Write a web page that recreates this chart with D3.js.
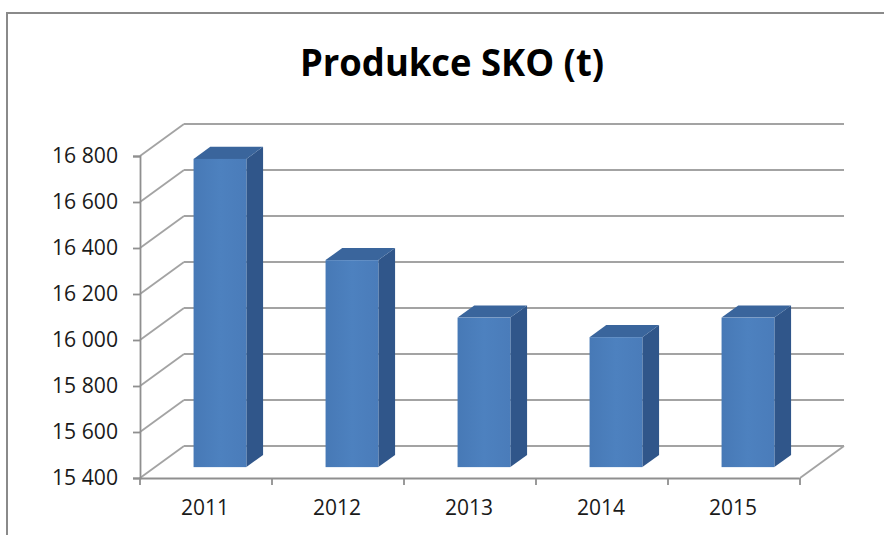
<!DOCTYPE html>
<html lang="cs">
<head>
  <meta charset="UTF-8">
  <title>Produkce SKO (t)</title>
  <script src="https://d3js.org/d3.v7.min.js"></script>
  <style>
    body { margin: 0; background: #fff; }
    svg { display: block; }
    text { font-family: "Open Sans", sans-serif; fill: #1a1a1a; }
  </style>
</head>
<body>
  <svg id="chart" width="884" height="535"></svg>

  <script>
    // data
    const years = ["2011", "2012", "2013", "2014", "2015"];
    const production = [16740, 16300, 16050, 15965, 16050];
    const yTicks = [15400, 15600, 15800, 16000, 16200, 16400, 16600, 16800];

    const width = 884, height = 535;
    const svg = d3.select("#chart");

    // 3d wall offset (back wall relative to front plane)
    const DX = 44, DY = -32;
    // bar sits between these depth fractions
    const d0 = 0.34, d1 = 0.72;

    const x = d3.scaleBand().domain(years).range([139, 799]).padding(0);
    const y = d3.scaleLinear().domain([15400, 16800]).range([478, 156]);
    const fmt = v => d3.format(",")(v).replace(",", " ");

    // outer frame
    svg.append("path")
      .attr("d", `M7,535 L7,13 L884,13`)
      .attr("fill", "none").attr("stroke", "#8a8a8a").attr("stroke-width", 2);

    // title
    svg.append("text")
      .attr("x", 452).attr("y", 76)
      .attr("text-anchor", "middle")
      .attr("font-size", 37).attr("font-weight", 700)
      .attr("textLength", 304).attr("lengthAdjust", "spacingAndGlyphs")
      .style("fill", "#000")
      .text("Produkce SKO (t)");

    const grid = svg.append("g")
      .attr("fill", "none").attr("stroke", "#a3a3a3").attr("stroke-width", 1.8);

    // back wall lines + side diagonals
    yTicks.forEach(t => {
      grid.append("line")
        .attr("x1", 140 + DX).attr("y1", y(t) + DY)
        .attr("x2", 800 + DX).attr("y2", y(t) + DY);
      grid.append("line")
        .attr("x1", 140).attr("y1", y(t))
        .attr("x2", 140 + DX).attr("y2", y(t) + DY);
    });
    // floor right edge
    grid.append("line")
      .attr("x1", 800).attr("y1", y(15400))
      .attr("x2", 800 + DX).attr("y2", y(15400) + DY);

    // axes on the front plane
    const yAxis = svg.append("g")
      .attr("transform", "translate(140,0)")
      .call(d3.axisLeft(y).tickValues(yTicks).tickFormat(fmt).tickSize(7).tickPadding(15));
    const xAxis = svg.append("g")
      .attr("transform", `translate(0,${y(15400)})`)
      .call(d3.axisBottom(x).tickSize(0).tickPadding(22));

    [yAxis, xAxis].forEach(g => {
      g.select(".domain").attr("stroke", "#8f8f8f").attr("stroke-width", 1.8);
      g.selectAll(".tick line").attr("stroke", "#8f8f8f").attr("stroke-width", 1.8);
      g.selectAll("text")
        .attr("font-size", 21)
        .attr("font-family", "'Open Sans', sans-serif")
        .attr("fill", "#1a1a1a");
    });
    yAxis.selectAll("text").attr("textLength", 66).attr("lengthAdjust", "spacingAndGlyphs");

    // category boundary ticks on x axis
    svg.append("g").selectAll("line")
      .data(years.concat(["end"]))
      .join("line")
      .attr("x1", (d, i) => 140 + i * x.bandwidth())
      .attr("x2", (d, i) => 140 + i * x.bandwidth())
      .attr("y1", y(15400)).attr("y2", y(15400) + 7)
      .attr("stroke", "#8f8f8f").attr("stroke-width", 1.8);

    // gradient for front faces
    const defs = svg.append("defs");
    const grad = defs.append("linearGradient").attr("id", "front")
      .attr("x1", 0).attr("x2", 1).attr("y1", 0).attr("y2", 0);
    grad.append("stop").attr("offset", "0%").attr("stop-color", "#4779b6");
    grad.append("stop").attr("offset", "50%").attr("stop-color", "#4d81bf");
    grad.append("stop").attr("offset", "100%").attr("stop-color", "#4a7cba");

    // bars
    const bw = x.bandwidth() * 0.4;
    const ox = d0 * DX, oy = d0 * DY;
    const ddx = (d1 - d0) * DX, ddy = (d1 - d0) * DY;

    const bars = svg.append("g").selectAll("g")
      .data(years.map((yr, i) => ({ yr, v: production[i] })))
      .join("g");

    bars.each(function(d) {
      const g = d3.select(this);
      const left = x(d.yr) + x.bandwidth() / 2 - bw / 2 + ox;
      const right = left + bw;
      const top = y(d.v) + oy;
      const bottom = y(15400) + oy;

      // side
      g.append("path")
        .attr("d", `M${right},${top} L${right + ddx},${top + ddy} L${right + ddx},${bottom + ddy} L${right},${bottom} Z`)
        .attr("fill", "#30568a");
      // top
      g.append("path")
        .attr("d", `M${left},${top} L${left + ddx},${top + ddy} L${right + ddx},${top + ddy} L${right},${top} Z`)
        .attr("fill", "#3a659c");
      // front
      g.append("rect")
        .attr("x", left).attr("y", top)
        .attr("width", bw).attr("height", bottom - top)
        .attr("fill", "url(#front)");
    });
  </script>
</body>
</html>
